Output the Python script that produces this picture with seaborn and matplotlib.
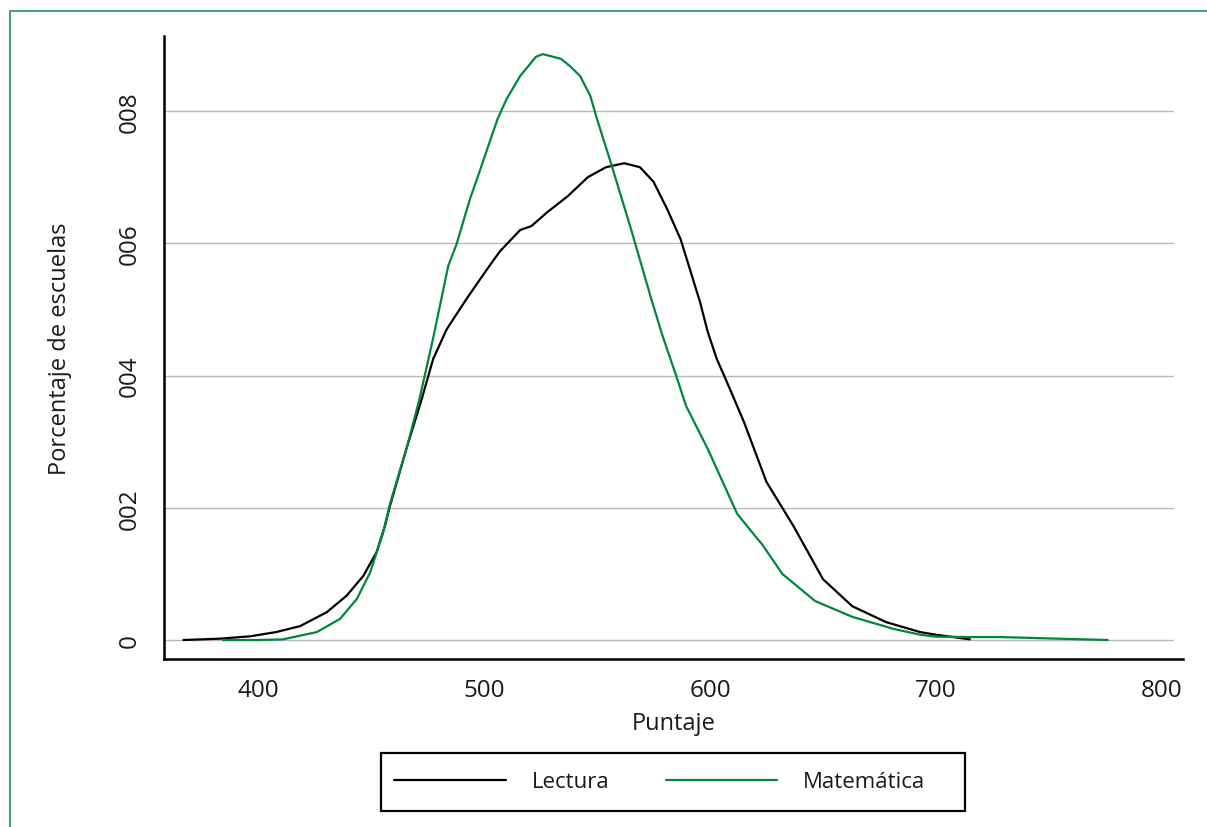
import matplotlib
matplotlib.use("Agg")
import matplotlib.pyplot as plt
import seaborn as sns
from matplotlib.lines import Line2D
from matplotlib.patches import Rectangle

lectura_x = [367, 383, 396.5, 408, 418.6, 430.4, 439.2, 446.6, 452.5, 456.2,
             458.4, 466, 472.4, 477.5, 483.5, 492.3, 501.2, 507.1, 516, 521,
             528, 537, 546, 554, 562, 569, 575, 581, 587, 595.6, 599, 603,
             607.5, 615, 625, 637, 650, 663, 678, 693, 700, 715]
lectura_y = [0.0, 0.02, 0.056, 0.12, 0.21, 0.42, 0.67, 0.97, 1.33, 1.73,
             2.03, 2.93, 3.64, 4.25, 4.70, 5.16, 5.60, 5.88, 6.20, 6.26,
             6.47, 6.71, 7.00, 7.15, 7.21, 7.15, 6.93, 6.52, 6.06, 5.11, 4.66,
             4.25, 3.90, 3.30, 2.39, 1.72, 0.92, 0.51, 0.27, 0.12, 0.08, 0.01]

mate_x = [384.5, 400, 411, 426, 436.3, 443.7, 449.6, 455.4, 458.4, 466, 471.4,
          477.4, 484.2, 487.9, 493.8, 498, 506, 510, 516, 523, 526, 534, 538,
          542.5, 547, 550, 556, 565, 574, 579, 585, 589.4, 599, 612, 621, 623,
          632, 646.5, 663, 681, 693, 700, 715, 728, 776]
mate_y = [0.0, 0.0, 0.01, 0.12, 0.32, 0.62, 1.02, 1.63, 2.06, 2.93, 3.64,
          4.55, 5.66, 5.99, 6.67, 7.08, 7.88, 8.18, 8.53, 8.82, 8.86, 8.79,
          8.68, 8.53, 8.23, 7.88, 7.23, 6.22, 5.16, 4.60, 4.00, 3.54, 2.89,
          1.91, 1.53, 1.45, 1.00, 0.59, 0.35, 0.17, 0.08, 0.05, 0.045, 0.045, 0.0]

y_ticks = [0, 0.002, 0.004, 0.006, 0.008]
y_labels = ["0", "002", "004", "006", "008"]
x_ticks = [400, 500, 600, 700, 800]

negro = "black"
verde = "#00873E"
texto = "#1a1a1a"

sns.set_style("white")
plt.rcParams["font.family"] = ["Open Sans", "DejaVu Sans"]
plt.rcParams["text.color"] = texto
plt.rcParams["axes.labelcolor"] = texto
plt.rcParams["xtick.color"] = texto
plt.rcParams["ytick.color"] = texto

W, H = 1207, 828
fig = plt.figure(figsize=(W / 100, H / 100), dpi=100)
ax = fig.add_axes([164 / W, 1 - 660 / H, (1183 - 164) / W, (660 - 37) / H])

sns.lineplot(x=lectura_x, y=[v / 1000 for v in lectura_y], color=negro,
             linewidth=1.6, ax=ax, label="Lectura", sort=False)
sns.lineplot(x=mate_x, y=[v / 1000 for v in mate_y], color=verde,
             linewidth=1.6, ax=ax, label="Matemática", sort=False)

ax.set_xlim(358.4, 809.3)
ax.set_ylim(-0.000287, 0.009134)

for t in y_ticks:
    ax.axhline(t, xmax=0.99, color="#b8b8b8", linewidth=1, zorder=0)

ax.set_xticks(x_ticks)
ax.set_xticklabels([str(t) for t in x_ticks], fontsize=17.5)
ax.set_yticks(y_ticks)
ax.set_yticklabels(y_labels, fontsize=17.5, rotation=90, va="center")
ax.tick_params(axis="both", direction="out", length=9, width=1.5, color="black")
ax.tick_params(axis="x", pad=5)
ax.tick_params(axis="y", pad=7)

for s in ["top", "right"]:
    ax.spines[s].set_visible(False)
for s in ["left", "bottom"]:
    ax.spines[s].set_color("black")
    ax.spines[s].set_linewidth(1.8)

ax.set_xlabel("Puntaje", fontsize=17, labelpad=6)
ax.set_ylabel("Porcentaje de escuelas", fontsize=17, labelpad=33)

# leyenda abajo, con el marco dibujado aparte (tiene mas margen a la derecha)
ax.get_legend().remove()
handles, labels = ax.get_legend_handles_labels()
fig.legend(handles, labels, loc="center", ncol=2,
           bbox_to_anchor=(660 / W, 1 - 783 / H), fontsize=16,
           frameon=False, handlelength=5.0, handletextpad=1.2,
           columnspacing=2.5, borderaxespad=0)
fig.add_artist(Rectangle((381 / W, 1 - 812 / H), (965 - 381) / W, (812 - 754) / H,
                         transform=fig.transFigure, fill=False,
                         edgecolor="black", linewidth=1.6))

# marco verde de la figura
borde = "#47A676"
fig.add_artist(Line2D([10 / W, 10 / W], [0, 1 - 12 / H], color=borde,
                      linewidth=1.5, transform=fig.transFigure))
fig.add_artist(Line2D([10 / W, 1], [1 - 12 / H, 1 - 12 / H], color=borde,
                      linewidth=1.5, transform=fig.transFigure))

fig.savefig("out.png", dpi=100)
